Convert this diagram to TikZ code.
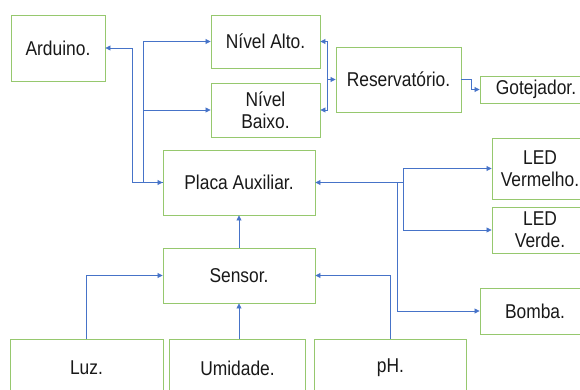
\documentclass[tikz,border=0pt]{standalone}
\usepackage{fontspec}
\setmainfont{Liberation Sans}[FakeStretch=0.87]
\usetikzlibrary{arrows.meta}
\definecolor{boxgreen}{RGB}{150,200,110}
\definecolor{linkblue}{RGB}{70,115,200}
\begin{document}
\begin{tikzpicture}[x=1pt,y=-1pt,
  blk/.style={draw=boxgreen,line width=0.9pt,fill=white,inner sep=0pt,align=center,
    text=black!90,font=\fontsize{20}{22}\selectfont},
  link/.style={draw=linkblue,line width=0.8pt,-{Triangle[length=5pt,width=5pt]}}]
\useasboundingbox (0,0) rectangle (580,390);
\clip (0,0) rectangle (580,390);
% boxes: (x1,y1)-(x2,y2)
\node[blk,minimum width=94pt,minimum height=66pt] (ard) at (58,48) {Arduino.};
\node[blk,minimum width=109pt,minimum height=53pt] (alto) at (265.5,41.5) {Nível Alto.};
\node[blk,minimum width=109pt,minimum height=54pt] (baixo) at (265.5,110) {Nível\\Baixo.};
\node[blk,minimum width=125pt,minimum height=65pt] (res) at (398.5,79.5) {Reservatório.};
\node[blk,minimum width=112pt,minimum height=27pt,text width=112pt] (got) at (536,89.5) {Gotejador.};
\node[blk,minimum width=152pt,minimum height=65pt] (placa) at (239,182.5) {Placa Auxiliar.};
\node[blk,minimum width=96pt,minimum height=61pt,text width=96pt] (ledr) at (540,168.5) {LED\\Vermelho.};
\node[blk,minimum width=96pt,minimum height=46pt,text width=96pt] (ledg) at (540,230) {LED\\Verde.};
\node[blk,minimum width=152pt,minimum height=55pt] (sensor) at (239,275.5) {Sensor.};
\node[blk,minimum width=110pt,minimum height=46pt,text width=110pt] (bomba) at (535,311) {Bomba.};
\node[blk,minimum width=153pt,minimum height=58pt] (luz) at (86.5,368) {Luz.};
\node[blk,minimum width=136pt,minimum height=58pt] (umid) at (237.5,368) {Umidade.};
\node[blk,minimum width=152pt,minimum height=58pt] (ph) at (390.5,368) {pH.};
% junctions
\coordinate (jl) at (143.5,182.5);
\coordinate (jr) at (327,79.5);
\coordinate (jp) at (403,182.5);
\coordinate (jb) at (397,182.5);
% connectors
\draw[link] (placa.west) -- ++(-30,0) |- (ard.east);
\draw[link] (jl) -- (placa.west);
\draw[link] (jl) |- (alto.west);
\draw[link] (jl) |- (baixo.west);
\draw[link] (jr) |- (alto.east);
\draw[link] (jr) |- (baixo.east);
\draw[link] (jr) -- (res.west);
\draw[link] (res.east) -- ++(10,0) |- (got.west);
\draw[link] (jp) -- (placa.east);
\draw[link] (jp) |- (ledr.west);
\draw[link] (jp) |- (ledg.west);
\draw[link] (jb) |- (bomba.west);
\draw[link] (sensor.north) -- (placa.south);
\draw[link] (sensor.south |- umid.north) -- (sensor.south);
\draw[link] (luz.north) |- (sensor.west);
\draw[link] (ph.north) |- (sensor.east);
\end{tikzpicture}
\end{document}
